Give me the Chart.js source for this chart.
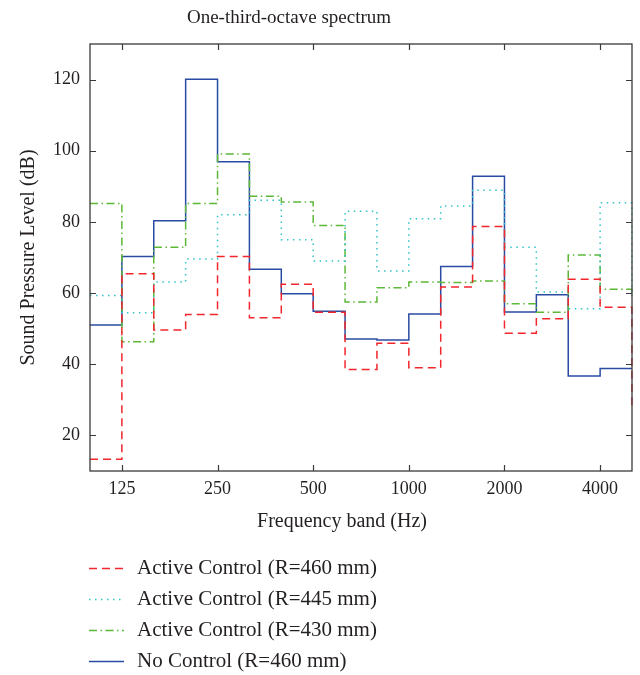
<!DOCTYPE html>
<html lang="en">
<head>
    <meta charset="UTF-8">
    <title>One-third-octave spectrum</title>
    <script src="https://cdn.jsdelivr.net/npm/chart.js"></script>
    <style>
        body { margin: 0; background: #fff; }
    </style>
</head>
<body>
    <canvas id="spectrumChart" width="640" height="675"></canvas>
    <script>
        // third-octave band centres (Hz)
        const bands = ['100', '125', '160', '200', '250', '315', '400', '500', '630', '800',
            '1000', '1250', '1600', '2000', '2500', '3150', '4000', '5000'];
        const shownBands = ['125', '250', '500', '1000', '2000', '4000'];
        const yTicks = [20, 40, 60, 80, 100, 120];

        // levels in dB, one value per band (held until the next band)
        const active460 = [13.3, 65.4, 49.6, 54.0, 70.3, 53.1, 62.5, 54.6, 38.5, 45.9, 39.0, 61.7, 78.7, 48.7, 52.8, 63.9, 56.0, 28.0];
        const active445 = [59.3, 54.5, 63.1, 69.6, 82.0, 86.1, 75.0, 69.0, 83.0, 66.2, 80.9, 84.5, 88.9, 72.9, 60.3, 55.6, 85.4, 60.0];
        const active430 = [85.2, 46.3, 72.9, 85.2, 99.1, 87.2, 85.6, 79.0, 57.5, 61.5, 63.1, 63.0, 63.4, 57.0, 54.6, 70.7, 61.1, 59.0];
        const noControl = [51.0, 70.3, 80.3, 120.1, 96.9, 66.7, 59.8, 54.9, 47.1, 46.8, 54.1, 67.5, 92.8, 54.7, 59.5, 36.7, 38.8, 38.8];

        const FONT = "'Liberation Serif', 'DejaVu Serif', serif";
        const TEXT = '#231f20';

        function series(label, data, color, dash) {
            return {
                label: label,
                data: data,
                borderColor: color,
                backgroundColor: color,
                borderWidth: 1.5,
                borderDash: dash,
                pointRadius: 0,
                fill: false,
                stepped: 'before'
            };
        }

        // frame, inward ticks, titles and the stacked legend below the plot
        const framePlugin = {
            id: 'frame',
            afterDatasetsDraw(chart) {
                const { ctx, chartArea: a, scales: { x, y } } = chart;
                ctx.save();
                ctx.strokeStyle = '#3a3a3a';
                ctx.lineWidth = 1.3;
                ctx.strokeRect(a.left, a.top, a.width, a.height);
                ctx.lineWidth = 1.2;
                ctx.beginPath();
                bands.forEach((b, i) => {
                    if (!shownBands.includes(b)) return;
                    const px = Math.round(x.getPixelForValue(i)) + 0.5;
                    ctx.moveTo(px, a.bottom); ctx.lineTo(px, a.bottom - 6);
                    ctx.moveTo(px, a.top); ctx.lineTo(px, a.top + 6);
                });
                yTicks.forEach(v => {
                    const py = Math.round(y.getPixelForValue(v)) + 0.5;
                    ctx.moveTo(a.left, py); ctx.lineTo(a.left + 6, py);
                    ctx.moveTo(a.right, py); ctx.lineTo(a.right - 6, py);
                });
                ctx.stroke();
                ctx.restore();
            },
            afterDraw(chart) {
                const ctx = chart.ctx;
                ctx.save();
                ctx.fillStyle = TEXT;
                ctx.textAlign = 'center';
                ctx.textBaseline = 'middle';
                ctx.font = '19px ' + FONT;
                ctx.fillText('One-third-octave spectrum', 289, 18);
                ctx.font = '20px ' + FONT;
                ctx.fillText('Frequency band (Hz)', 342, 522);

                ctx.font = '21px ' + FONT;
                ctx.textAlign = 'left';
                chart.data.datasets.forEach((ds, i) => {
                    const rowY = 568 + i * 31;
                    ctx.strokeStyle = ds.borderColor;
                    ctx.lineWidth = 1.5;
                    ctx.setLineDash(ds.borderDash || []);
                    ctx.beginPath();
                    ctx.moveTo(89, rowY + 0.5);
                    ctx.lineTo(124, rowY + 0.5);
                    ctx.stroke();
                    ctx.setLineDash([]);
                    ctx.fillStyle = TEXT;
                    ctx.fillText(ds.label, 137, rowY);
                });
                ctx.restore();
            }
        };

        const ctx = document.getElementById('spectrumChart').getContext('2d');
        new Chart(ctx, {
            type: 'line',
            data: {
                labels: bands,
                datasets: [
                    series('Active Control (R=460 mm)', active460, '#f2262c', [8, 5]),
                    series('Active Control (R=445 mm)', active445, '#2fc4c9', [1.5, 4.5]),
                    series('Active Control (R=430 mm)', active430, '#5cb836', [8, 3.5, 1.5, 3.5]),
                    series('No Control (R=460 mm)', noControl, '#2a4ba3', [])
                ]
            },
            plugins: [framePlugin],
            options: {
                responsive: false,
                animation: false,
                layout: { padding: { top: 44, right: 8, bottom: 130, left: 0 } },
                plugins: {
                    legend: { display: false },
                    title: { display: false },
                    tooltip: { enabled: false }
                },
                scales: {
                    x: {
                        type: 'category',
                        offset: false,
                        afterFit: s => { s.height = 74; },
                        grid: { display: false, drawTicks: false },
                        border: { display: false },
                        ticks: {
                            autoSkip: false,
                            maxRotation: 0,
                            padding: 7,
                            color: TEXT,
                            font: { family: FONT, size: 18 },
                            callback: function (val) {
                                const lab = this.getLabelForValue(val);
                                return shownBands.includes(lab) ? lab : '';
                            }
                        }
                    },
                    y: {
                        min: 10,
                        max: 130,
                        afterFit: s => { s.width = 90; },
                        afterBuildTicks: s => { s.ticks = yTicks.map(v => ({ value: v })); },
                        grid: { display: false, drawTicks: false },
                        border: { display: false },
                        ticks: {
                            padding: 10,
                            color: TEXT,
                            font: { family: FONT, size: 18 }
                        },
                        title: {
                            display: true,
                            text: 'Sound Pressure Level (dB)',
                            color: TEXT,
                            font: { family: FONT, size: 20 },
                            padding: { top: 17, bottom: 0 }
                        }
                    }
                }
            }
        });
    </script>
</body>
</html>
